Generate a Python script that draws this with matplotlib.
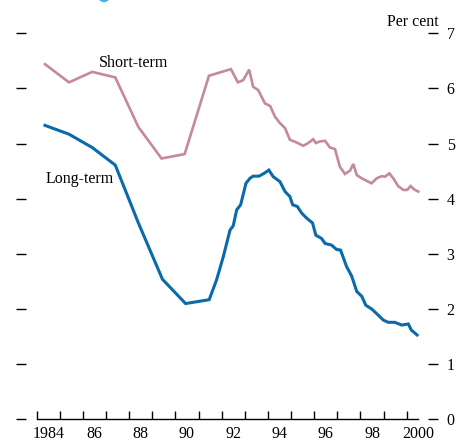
import matplotlib.pyplot as plt
from matplotlib.patches import Ellipse

# values (per cent)
short_years = [1984.36, 1985.4, 1986.4, 1987.4, 1988.4, 1989.4, 1990.4, 1991.45,
               1992.4, 1992.7, 1992.93, 1993.19, 1993.36, 1993.58, 1993.87, 1994.1,
               1994.3, 1994.5, 1994.74, 1994.95, 1995.24, 1995.53, 1995.74, 1995.96,
               1996.07, 1996.25, 1996.47, 1996.68, 1996.9, 1997.11, 1997.33, 1997.55,
               1997.69, 1997.84, 1998.06, 1998.2, 1998.48, 1998.7, 1998.92, 1999.06,
               1999.25, 1999.42, 1999.63, 1999.85, 2000.02, 2000.17, 2000.32, 2000.5]
short_rate = [6.44, 6.11, 6.30, 6.20, 5.30, 4.73, 4.81, 6.23,
              6.35, 6.11, 6.15, 6.34, 6.03, 5.97, 5.73, 5.68,
              5.49, 5.38, 5.28, 5.07, 5.02, 4.96, 5.01, 5.08,
              5.01, 5.04, 5.05, 4.93, 4.90, 4.58, 4.45, 4.51,
              4.63, 4.43, 4.37, 4.34, 4.28, 4.37, 4.41, 4.40,
              4.46, 4.37, 4.23, 4.16, 4.16, 4.23, 4.17, 4.13]

long_years = [1984.36, 1985.4, 1986.4, 1987.4, 1988.4, 1989.44, 1990.44, 1991.46,
              1991.78, 1992.07, 1992.36, 1992.5, 1992.65, 1992.82, 1993.05, 1993.22,
              1993.36, 1993.62, 1993.87, 1994.04, 1994.23, 1994.52, 1994.74, 1994.95,
              1995.07, 1995.27, 1995.46, 1995.67, 1995.93, 1996.07, 1996.32, 1996.47,
              1996.75, 1996.97, 1997.14, 1997.4, 1997.62, 1997.84, 1998.06, 1998.23,
              1998.49, 1998.77, 1998.99, 1999.2, 1999.49, 1999.78, 2000.07, 2000.2, 2000.45]
long_rate = [5.33, 5.17, 4.93, 4.61, 3.56, 2.54, 2.10, 2.17,
             2.53, 2.95, 3.43, 3.51, 3.80, 3.89, 4.28, 4.37,
             4.41, 4.41, 4.47, 4.52, 4.40, 4.31, 4.13, 4.04,
             3.89, 3.86, 3.74, 3.65, 3.56, 3.34, 3.28, 3.19,
             3.16, 3.08, 3.07, 2.77, 2.60, 2.32, 2.23, 2.07,
             2.00, 1.89, 1.80, 1.76, 1.76, 1.71, 1.73, 1.62, 1.53]

year_ticks = list(range(1984, 2001))
year_labels = ['1984', '86', '88', '90', '92', '94', '96', '98', '2000']
y_ticks = [0, 1, 2, 3, 4, 5, 6, 7]

plt.rcParams['font.family'] = ['Liberation Serif', 'DejaVu Serif']
plt.rcParams['font.size'] = 11

fig = plt.figure(figsize=(4.57, 4.41), dpi=100)
ax = fig.add_axes([0.0569, 0.049, 0.8796, 0.8943])

blue = '#0a6aab'
pink = '#c4899b'
ax.plot(short_years, short_rate, color=pink, lw=1.9, solid_joinstyle='miter')
ax.plot(long_years, long_rate, color=blue, lw=2.2, solid_joinstyle='miter')

ax.set_xlim(1983.54, 2000.92)
ax.set_ylim(0, 7.15)

for s in ['top', 'left', 'right']:
    ax.spines[s].set_visible(False)
ax.spines['bottom'].set_bounds(1984, 2000.5)
ax.spines['bottom'].set_linewidth(1.0)

ax.set_xticks(year_ticks)
ax.set_xticklabels([])
ax.tick_params(axis='x', which='major', direction='in', length=5.8, width=1.0)
ax.set_xticks([y + 0.5 for y in year_ticks[::2]], minor=True)
ax.set_xticklabels(year_labels, minor=True)
ax.tick_params(axis='x', which='minor', length=0, pad=5, labelsize=11.5)

ax.set_yticks(y_ticks)
ax.tick_params(axis='y', left=True, right=True, labelleft=False, labelright=True,
               direction='out', length=7.5, width=1.0, pad=6, labelsize=11.5)

ax.text(1986.7, 6.47, 'Short-term', ha='left', va='center', fontsize=11.5)
ax.text(1984.39, 4.35, 'Long-term', ha='left', va='center', fontsize=11.5)
fig.text(439 / 457, 1 - 22.5 / 441, 'Per cent', ha='right', va='center', fontsize=11.5)

# sliver of a logo cut off at the top edge
fig.patches.append(Ellipse((104 / 457, 1 + 3 / 441), 10 / 457, 9 / 441, color='#3cb4e6',
                           transform=fig.transFigure, figure=fig))

fig.savefig('out.png', dpi=100)
